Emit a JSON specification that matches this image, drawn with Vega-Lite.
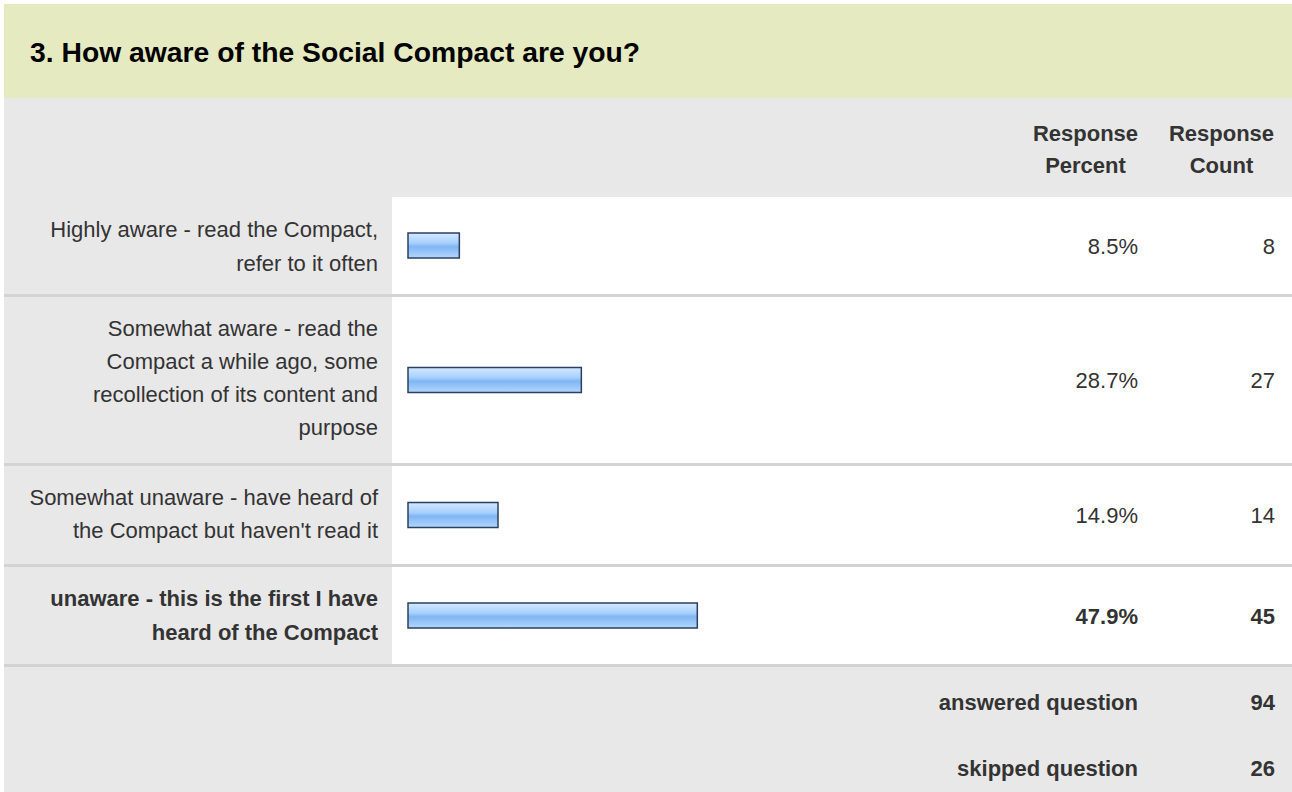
{
  "$schema": "https://vega.github.io/schema/vega-lite/v6.json",
  "background": "#ffffff",
  "padding": {"left": 4, "top": 4, "right": 0, "bottom": 0},
  "autosize": {"type": "pad"},
  "config": {
    "font": "Liberation Sans",
    "concat": {"spacing": 0},
    "view": {"stroke": null},
    "text": {"font": "Liberation Sans", "fontSize": 22, "color": "#333333", "lineBreak": "\n"}
  },
  "datasets": {
    "responses": [
      {"answer": "Highly aware - read the Compact,\nrefer to it often", "percent": 0.085, "count": 8},
      {"answer": "Somewhat aware - read the\nCompact a while ago, some\nrecollection of its content and\npurpose", "percent": 0.287, "count": 27},
      {"answer": "Somewhat unaware - have heard of\nthe Compact but haven't read it", "percent": 0.149, "count": 14},
      {"answer": "unaware - this is the first I have\nheard of the Compact", "percent": 0.479, "count": 45}
    ],
    "summary": [
      {"label": "answered question", "count": 94},
      {"label": "skipped question", "count": 26}
    ],
    "headers": [
      {"column": "percent", "header": "Response\nPercent"},
      {"column": "count", "header": "Response\nCount"}
    ]
  },
  "vconcat": [
    {
      "width": 1288, "height": 94,
      "view": {"fill": "#e5eac1", "stroke": null},
      "title": {"text": "3. How aware of the Social Compact are you?", "anchor": "start", "frame": "group", "orient": "top", "offset": -78, "dx": 26, "baseline": "middle", "fontSize": 28.3, "fontWeight": "bold", "font": "Liberation Sans", "color": "#000000"},
      "data": {"values": [{}]},
      "mark": {"type": "text", "text": "", "fontSize": 1}
    },
    {
      "hconcat": [
        {"width": 1024, "height": 99, "view": {"fill": "#e8e8e8", "stroke": null}, "data": {"values": [{}]}, "mark": {"type": "text", "text": "", "fontSize": 1}},
        {"width": 115, "height": 99, "view": {"fill": "#e8e8e8", "stroke": null}, "data": {"name": "headers"}, "transform": [{"filter": {"field": "column", "equal": "percent"}}],
          "mark": {"type": "text", "align": "center", "fontWeight": "bold", "lineHeight": 32, "dy": -14},
          "encoding": {"text": {"field": "header"}}},
        {"width": 149, "height": 99, "view": {"fill": "#e8e8e8", "stroke": null}, "data": {"name": "headers"}, "transform": [{"filter": {"field": "column", "equal": "count"}}],
          "mark": {"type": "text", "align": "center", "fontWeight": "bold", "lineHeight": 32, "dy": -14, "dx": 4},
          "encoding": {"text": {"field": "header"}}}
      ], "spacing": 0, "bounds": "flush"
    },
    {
      "hconcat": [
        {"width": 388, "height": 97, "view": {"fill": "#e8e8e8", "stroke": null}, "data": {"name": "responses"}, "transform": [{"filter": {"field": "count", "equal": 8}}],
          "mark": {"type": "text", "align": "right", "dx": -14, "dy": -15.5, "lineHeight": 34},
          "encoding": {"x": {"value": "width"}, "text": {"field": "answer"}}},
        {"width": 636, "height": 97, "view": {"fill": "#ffffff", "stroke": null}, "data": {"name": "responses"}, "transform": [{"filter": {"field": "count", "equal": 8}}],
          "mark": {"type": "bar", "height": 25, "stroke": "#2b3f63", "strokeWidth": 1.5, "fill": {"gradient": "linear", "x1": 0, "y1": 0, "x2": 0, "y2": 1, "stops": [{"offset": 0, "color": "#d4e9ff"}, {"offset": 0.4, "color": "#a8d0fc"}, {"offset": 0.55, "color": "#7fb6f3"}, {"offset": 1, "color": "#b3d7fc"}]}},
          "encoding": {"x": {"field": "percent", "type": "quantitative", "scale": {"domain": [0, 1], "range": [16, 620]}, "axis": null}, "y": {"field": "answer", "type": "nominal", "axis": null}}},
        {"width": 115, "height": 97, "view": {"fill": "#ffffff", "stroke": null}, "data": {"name": "responses"}, "transform": [{"filter": {"field": "count", "equal": 8}}],
          "mark": {"type": "text", "align": "right", "dx": -5, "dy": 1.5},
          "encoding": {"x": {"value": "width"}, "text": {"field": "percent", "type": "quantitative", "format": ".1%"}}},
        {"width": 149, "height": 97, "view": {"fill": "#ffffff", "stroke": null}, "data": {"name": "responses"}, "transform": [{"filter": {"field": "count", "equal": 8}}],
          "mark": {"type": "text", "align": "right", "dx": -17, "dy": 1.5},
          "encoding": {"x": {"value": "width"}, "text": {"field": "count", "type": "quantitative"}}}
      ], "spacing": 0, "bounds": "flush"
    },
    {"width": 1288, "height": 3, "view": {"fill": "#d3d3d3", "stroke": null}, "data": {"values": [{}]}, "mark": {"type": "text", "text": "", "fontSize": 1}},
    {
      "hconcat": [
        {"width": 388, "height": 166, "view": {"fill": "#e8e8e8", "stroke": null}, "data": {"name": "responses"}, "transform": [{"filter": {"field": "count", "equal": 27}}],
          "mark": {"type": "text", "align": "right", "dx": -14, "dy": -51, "lineHeight": 33},
          "encoding": {"x": {"value": "width"}, "text": {"field": "answer"}}},
        {"width": 636, "height": 166, "view": {"fill": "#ffffff", "stroke": null}, "data": {"name": "responses"}, "transform": [{"filter": {"field": "count", "equal": 27}}],
          "mark": {"type": "bar", "height": 25, "stroke": "#2b3f63", "strokeWidth": 1.5, "fill": {"gradient": "linear", "x1": 0, "y1": 0, "x2": 0, "y2": 1, "stops": [{"offset": 0, "color": "#d4e9ff"}, {"offset": 0.4, "color": "#a8d0fc"}, {"offset": 0.55, "color": "#7fb6f3"}, {"offset": 1, "color": "#b3d7fc"}]}},
          "encoding": {"x": {"field": "percent", "type": "quantitative", "scale": {"domain": [0, 1], "range": [16, 620]}, "axis": null}, "y": {"field": "answer", "type": "nominal", "axis": null}}},
        {"width": 115, "height": 166, "view": {"fill": "#ffffff", "stroke": null}, "data": {"name": "responses"}, "transform": [{"filter": {"field": "count", "equal": 27}}],
          "mark": {"type": "text", "align": "right", "dx": -5, "dy": 1},
          "encoding": {"x": {"value": "width"}, "text": {"field": "percent", "type": "quantitative", "format": ".1%"}}},
        {"width": 149, "height": 166, "view": {"fill": "#ffffff", "stroke": null}, "data": {"name": "responses"}, "transform": [{"filter": {"field": "count", "equal": 27}}],
          "mark": {"type": "text", "align": "right", "dx": -17, "dy": 1},
          "encoding": {"x": {"value": "width"}, "text": {"field": "count", "type": "quantitative"}}}
      ], "spacing": 0, "bounds": "flush"
    },
    {"width": 1288, "height": 3, "view": {"fill": "#d3d3d3", "stroke": null}, "data": {"values": [{}]}, "mark": {"type": "text", "text": "", "fontSize": 1}},
    {
      "hconcat": [
        {"width": 388, "height": 98, "view": {"fill": "#e8e8e8", "stroke": null}, "data": {"name": "responses"}, "transform": [{"filter": {"field": "count", "equal": 14}}],
          "mark": {"type": "text", "align": "right", "dx": -14, "dy": -17, "lineHeight": 33},
          "encoding": {"x": {"value": "width"}, "text": {"field": "answer"}}},
        {"width": 636, "height": 98, "view": {"fill": "#ffffff", "stroke": null}, "data": {"name": "responses"}, "transform": [{"filter": {"field": "count", "equal": 14}}],
          "mark": {"type": "bar", "height": 25, "stroke": "#2b3f63", "strokeWidth": 1.5, "fill": {"gradient": "linear", "x1": 0, "y1": 0, "x2": 0, "y2": 1, "stops": [{"offset": 0, "color": "#d4e9ff"}, {"offset": 0.4, "color": "#a8d0fc"}, {"offset": 0.55, "color": "#7fb6f3"}, {"offset": 1, "color": "#b3d7fc"}]}},
          "encoding": {"x": {"field": "percent", "type": "quantitative", "scale": {"domain": [0, 1], "range": [16, 620]}, "axis": null}, "y": {"field": "answer", "type": "nominal", "axis": null}}},
        {"width": 115, "height": 98, "view": {"fill": "#ffffff", "stroke": null}, "data": {"name": "responses"}, "transform": [{"filter": {"field": "count", "equal": 14}}],
          "mark": {"type": "text", "align": "right", "dx": -5, "dy": 1},
          "encoding": {"x": {"value": "width"}, "text": {"field": "percent", "type": "quantitative", "format": ".1%"}}},
        {"width": 149, "height": 98, "view": {"fill": "#ffffff", "stroke": null}, "data": {"name": "responses"}, "transform": [{"filter": {"field": "count", "equal": 14}}],
          "mark": {"type": "text", "align": "right", "dx": -17, "dy": 1},
          "encoding": {"x": {"value": "width"}, "text": {"field": "count", "type": "quantitative"}}}
      ], "spacing": 0, "bounds": "flush"
    },
    {"width": 1288, "height": 3, "view": {"fill": "#d3d3d3", "stroke": null}, "data": {"values": [{}]}, "mark": {"type": "text", "text": "", "fontSize": 1}},
    {
      "hconcat": [
        {"width": 388, "height": 97, "view": {"fill": "#e8e8e8", "stroke": null}, "data": {"name": "responses"}, "transform": [{"filter": {"field": "count", "equal": 45}}],
          "mark": {"type": "text", "align": "right", "dx": -14, "dy": -16.5, "lineHeight": 34, "fontWeight": "bold"},
          "encoding": {"x": {"value": "width"}, "text": {"field": "answer"}}},
        {"width": 636, "height": 97, "view": {"fill": "#ffffff", "stroke": null}, "data": {"name": "responses"}, "transform": [{"filter": {"field": "count", "equal": 45}}],
          "mark": {"type": "bar", "height": 25, "stroke": "#2b3f63", "strokeWidth": 1.5, "fill": {"gradient": "linear", "x1": 0, "y1": 0, "x2": 0, "y2": 1, "stops": [{"offset": 0, "color": "#d4e9ff"}, {"offset": 0.4, "color": "#a8d0fc"}, {"offset": 0.55, "color": "#7fb6f3"}, {"offset": 1, "color": "#b3d7fc"}]}},
          "encoding": {"x": {"field": "percent", "type": "quantitative", "scale": {"domain": [0, 1], "range": [16, 620]}, "axis": null}, "y": {"field": "answer", "type": "nominal", "axis": null}}},
        {"width": 115, "height": 97, "view": {"fill": "#ffffff", "stroke": null}, "data": {"name": "responses"}, "transform": [{"filter": {"field": "count", "equal": 45}}],
          "mark": {"type": "text", "align": "right", "dx": -5, "dy": 1, "fontWeight": "bold"},
          "encoding": {"x": {"value": "width"}, "text": {"field": "percent", "type": "quantitative", "format": ".1%"}}},
        {"width": 149, "height": 97, "view": {"fill": "#ffffff", "stroke": null}, "data": {"name": "responses"}, "transform": [{"filter": {"field": "count", "equal": 45}}],
          "mark": {"type": "text", "align": "right", "dx": -17, "dy": 1, "fontWeight": "bold"},
          "encoding": {"x": {"value": "width"}, "text": {"field": "count", "type": "quantitative"}}}
      ], "spacing": 0, "bounds": "flush"
    },
    {"width": 1288, "height": 3, "view": {"fill": "#d3d3d3", "stroke": null}, "data": {"values": [{}]}, "mark": {"type": "text", "text": "", "fontSize": 1}},
    {
      "hconcat": [
        {"width": 1024, "height": 72, "view": {"fill": "#e8e8e8", "stroke": null}, "data": {"values": [{}]}, "mark": {"type": "text", "text": "", "fontSize": 1}},
        {"width": 115, "height": 72, "view": {"fill": "#e8e8e8", "stroke": null}, "data": {"name": "summary"}, "transform": [{"filter": {"field": "label", "equal": "answered question"}}],
          "mark": {"type": "text", "align": "right", "dx": -5, "dy": 0, "fontWeight": "bold"},
          "encoding": {"x": {"value": "width"}, "text": {"field": "label"}}},
        {"width": 149, "height": 72, "view": {"fill": "#e8e8e8", "stroke": null}, "data": {"name": "summary"}, "transform": [{"filter": {"field": "label", "equal": "answered question"}}],
          "mark": {"type": "text", "align": "right", "dx": -17, "dy": 0, "fontWeight": "bold"},
          "encoding": {"x": {"value": "width"}, "text": {"field": "count", "type": "quantitative"}}}
      ], "spacing": 0, "bounds": "flush"
    },
    {
      "hconcat": [
        {"width": 1024, "height": 53, "view": {"fill": "#e8e8e8", "stroke": null}, "data": {"values": [{}]}, "mark": {"type": "text", "text": "", "fontSize": 1}},
        {"width": 115, "height": 53, "view": {"fill": "#e8e8e8", "stroke": null}, "data": {"name": "summary"}, "transform": [{"filter": {"field": "label", "equal": "skipped question"}}],
          "mark": {"type": "text", "align": "right", "dx": -5, "dy": 3, "fontWeight": "bold"},
          "encoding": {"x": {"value": "width"}, "text": {"field": "label"}}},
        {"width": 149, "height": 53, "view": {"fill": "#e8e8e8", "stroke": null}, "data": {"name": "summary"}, "transform": [{"filter": {"field": "label", "equal": "skipped question"}}],
          "mark": {"type": "text", "align": "right", "dx": -17, "dy": 3, "fontWeight": "bold"},
          "encoding": {"x": {"value": "width"}, "text": {"field": "count", "type": "quantitative"}}}
      ], "spacing": 0, "bounds": "flush"
    }
  ],
  "spacing": 0
}
